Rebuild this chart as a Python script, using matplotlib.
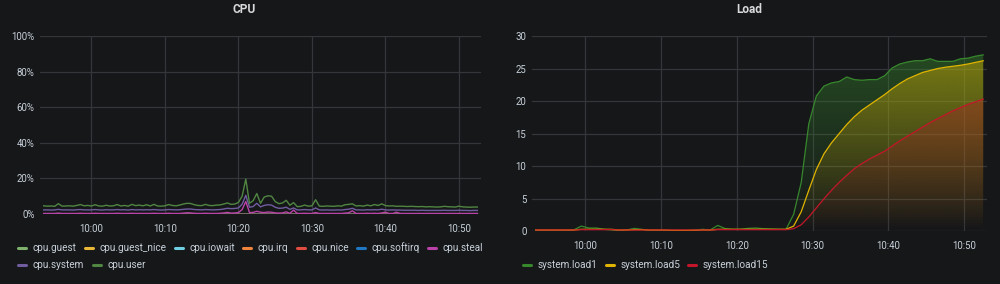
import numpy as np
import pandas as pd
import matplotlib
matplotlib.use('Agg')
import matplotlib.pyplot as plt
import matplotlib.dates as mdates
import matplotlib.colors as mcolors
from matplotlib.lines import Line2D

plt.rcParams['font.family'] = ['Roboto', 'DejaVu Sans']

# ---- data ----
cpu_times = pd.date_range('2021-01-01 09:53:30', periods=119, freq='30s')
load_times = pd.date_range('2021-01-01 09:53:30', periods=60, freq='60s')

cpu_user = [4.6, 4.4, 4.5, 4.3, 5.8, 4.4, 4.5, 4.6, 4.4, 4.8,
            5.3, 4.6, 4.8, 4.5, 5.2, 4.5, 4.4, 4.9, 4.5, 4.6,
            5.3, 4.5, 4.8, 4.4, 5.4, 4.7, 5.0, 4.6, 5.2, 4.5,
            5.4, 4.5, 4.4, 4.6, 5.3, 4.8, 4.6, 5.0, 5.6, 6.0,
            5.9, 5.2, 4.8, 4.7, 5.4, 4.8, 4.7, 5.0, 5.1, 5.6,
            6.2, 5.4, 5.6, 6.5, 10.0, 19.6, 6.0, 7.5, 11.5, 6.0,
            9.5, 10.2, 10.0, 7.0, 5.8, 6.2, 7.7, 4.9, 6.4, 4.1,
            4.3, 5.0, 4.4, 4.6, 8.0, 4.4, 4.3, 4.5, 4.4, 4.3,
            4.6, 4.4, 5.2, 5.4, 5.7, 4.5, 4.7, 4.4, 5.0, 4.6,
            5.3, 4.8, 5.7, 4.7, 4.5, 4.6, 4.3, 4.4, 4.3, 4.2,
            4.3, 4.2, 4.1, 4.2, 4.0, 4.1, 4.0, 3.9, 4.0, 4.3,
            4.1, 4.0, 3.9, 4.4, 4.0, 3.9, 3.8, 3.9, 3.9]

cpu_system = [2.3, 2.3, 2.2, 2.3, 2.6, 2.3, 2.3, 2.3, 2.2, 2.4,
              2.5, 2.3, 2.3, 2.3, 2.5, 2.3, 2.2, 2.4, 2.3, 2.3,
              2.5, 2.3, 2.4, 2.2, 2.5, 2.3, 2.4, 2.3, 2.4, 2.3,
              2.5, 2.3, 2.2, 2.3, 2.5, 2.4, 2.3, 2.4, 2.6, 2.8,
              2.8, 2.5, 2.4, 2.3, 2.5, 2.4, 2.3, 2.4, 2.5, 2.8,
              3.2, 3.0, 3.1, 3.4, 5.5, 10.5, 3.8, 4.2, 6.0, 4.0,
              4.8, 5.2, 5.0, 3.8, 3.2, 3.3, 3.8, 2.6, 3.4, 2.3,
              2.3, 2.5, 2.3, 2.3, 3.4, 2.3, 2.2, 2.3, 2.2, 2.2,
              2.3, 2.2, 2.5, 2.7, 3.2, 2.3, 2.3, 2.2, 2.4, 2.3,
              2.4, 2.3, 2.7, 2.3, 2.2, 2.3, 2.2, 2.2, 2.1, 2.1,
              2.1, 2.1, 2.0, 2.1, 2.0, 2.0, 2.0, 2.0, 2.0, 2.1,
              2.0, 2.0, 2.0, 2.1, 2.0, 2.0, 1.9, 2.0, 2.0]

cpu_steal = [0.3, 0.3, 0.3, 0.3, 0.5, 0.3, 0.3, 0.3, 0.3, 0.3,
             0.4, 0.3, 0.3, 0.3, 0.4, 0.3, 0.3, 0.3, 0.3, 0.3,
             0.4, 0.3, 0.3, 0.3, 0.4, 0.3, 0.3, 0.3, 0.3, 0.3,
             0.4, 0.3, 0.3, 0.3, 0.4, 0.3, 0.3, 0.3, 0.5, 0.7,
             0.6, 0.4, 0.3, 0.3, 0.4, 0.3, 0.3, 0.3, 0.4, 0.6,
             0.9, 0.5, 0.6, 0.8, 2.5, 7.0, 0.8, 0.9, 1.5, 1.0,
             0.8, 1.1, 1.0, 0.6, 0.5, 0.6, 1.2, 0.4, 2.2, 0.3,
             0.3, 0.4, 0.3, 0.3, 0.8, 0.3, 0.3, 0.3, 0.3, 0.3,
             0.3, 0.3, 0.5, 0.7, 1.8, 0.3, 0.3, 0.3, 0.4, 0.3,
             0.4, 0.3, 0.6, 1.0, 0.3, 0.3, 1.0, 0.3, 0.3, 0.3,
             0.3, 0.3, 0.3, 0.3, 0.3, 0.3, 0.3, 0.3, 0.3, 0.3,
             0.3, 0.3, 0.3, 0.3, 0.3, 0.3, 0.3, 0.3, 0.3]

cpu_zero = [0.0] * 119

load1 = [0.1, 0.1, 0.1, 0.1, 0.1, 0.2, 0.8, 0.5, 0.5, 0.3,
         0.2, 0.1, 0.2, 0.45, 0.3, 0.1, 0.1, 0.1, 0.05, 0.05,
         0.1, 0.2, 0.3, 0.2, 0.9, 0.4, 0.3, 0.3, 0.45, 0.5,
         0.4, 0.35, 0.3, 0.3, 2.6, 7.5, 16.5, 20.8, 22.3, 22.8,
         23.0, 23.7, 23.3, 23.2, 23.3, 23.3, 23.9, 25.1, 25.7, 26.0,
         26.2, 26.2, 26.5, 26.1, 26.1, 26.1, 26.5, 26.6, 26.9, 27.1]

load5 = [0.2, 0.2, 0.2, 0.2, 0.2, 0.2, 0.3, 0.3, 0.3, 0.3,
         0.3, 0.2, 0.2, 0.25, 0.25, 0.2, 0.2, 0.2, 0.15, 0.15,
         0.15, 0.15, 0.2, 0.2, 0.3, 0.3, 0.3, 0.3, 0.3, 0.3,
         0.3, 0.3, 0.3, 0.3, 0.8, 3.0, 6.3, 9.5, 11.9, 13.6,
         15.0, 16.4, 17.6, 18.6, 19.4, 20.2, 21.0, 21.9, 22.7, 23.4,
         23.9, 24.4, 24.7, 25.0, 25.2, 25.35, 25.5, 25.7, 25.95, 26.2]

load15 = [0.2, 0.2, 0.2, 0.2, 0.2, 0.2, 0.25, 0.25, 0.25, 0.25,
          0.25, 0.2, 0.2, 0.2, 0.2, 0.2, 0.2, 0.2, 0.2, 0.2,
          0.2, 0.2, 0.2, 0.2, 0.25, 0.25, 0.25, 0.25, 0.25, 0.25,
          0.25, 0.25, 0.25, 0.25, 0.4, 1.0, 2.2, 3.6, 5.0, 6.3,
          7.5, 8.6, 9.6, 10.4, 11.1, 11.7, 12.3, 13.1, 13.9, 14.6,
          15.3, 16.0, 16.7, 17.3, 17.9, 18.5, 19.0, 19.5, 19.9, 20.3]

cpu_names = ['cpu.guest', 'cpu.guest_nice', 'cpu.iowait', 'cpu.irq', 'cpu.nice',
             'cpu.softirq', 'cpu.steal', 'cpu.system', 'cpu.user']
cpu_values = [cpu_zero, cpu_zero, cpu_zero, cpu_zero, cpu_zero,
              cpu_zero, cpu_steal, cpu_system, cpu_user]
cpu_colors = ['#7EB26D', '#EAB839', '#6ED0E0', '#EF843C', '#E24D42',
              '#1F78C1', '#BA43A9', '#705DA0', '#508642']

load_names = ['system.load1', 'system.load5', 'system.load15']
load_values = [load1, load5, load15]
load_colors = ['#37872D', '#E0B400', '#C4162A']

# ---- style ----
BG = '#161719'
GRID = '#34363a'
TXT = '#c7d0d9'

fig = plt.figure(figsize=(10, 2.84), dpi=100, facecolor=BG)
ax1 = fig.add_axes([0.040, 0.2465, 0.441, 0.6268])
ax2 = fig.add_axes([0.532, 0.1856, 0.455, 0.6877])

t0 = pd.Timestamp('2021-01-01 09:53:00')
t1 = pd.Timestamp('2021-01-01 10:53:00')


def style(ax, yticks, fmt):
    ax.set_facecolor(BG)
    for s in ax.spines.values():
        s.set_visible(False)
    ax.set_xlim(t0, t1)
    ax.set_ylim(yticks[0], yticks[-1])
    ax.set_yticks(yticks)
    ax.set_yticklabels([fmt % v for v in yticks])
    ax.xaxis.set_major_locator(mdates.MinuteLocator(byminute=[0, 10, 20, 30, 40, 50]))
    ax.xaxis.set_major_formatter(mdates.DateFormatter('%H:%M'))
    ax.tick_params(length=0, colors=TXT, labelsize=6.9)
    ax.tick_params(axis='x', pad=7)
    ax.tick_params(axis='y', pad=4)
    ax.grid(True, color=GRID, linewidth=0.9)
    ax.set_axisbelow(True)


# CPU panel
for name, vals, col in zip(cpu_names, cpu_values, cpu_colors):
    ax1.plot(cpu_times, vals, color=col, linewidth=1.0, label=name, zorder=3)
style(ax1, [0, 20, 40, 60, 80, 100], '%d%%')


# Load panel with gradient fills
def gradient_fill(ax, x, y, color, top, amax, z):
    poly = ax.fill_between(x, 0, y, facecolor='none', edgecolor='none')
    rgba = np.zeros((200, 1, 4))
    rgba[:, :, :3] = mcolors.to_rgb(color)
    rgba[:, 0, 3] = np.linspace(0, amax, 200)
    xn = mdates.date2num(x)
    im = ax.imshow(rgba, aspect='auto', origin='lower',
                   extent=[xn[0], xn[-1], 0, top], zorder=z,
                   interpolation='bilinear')
    im.set_clip_path(poly.get_paths()[0], transform=ax.transData)


for i, (name, vals, col) in enumerate(zip(load_names, load_values, load_colors)):
    gradient_fill(ax2, load_times, vals, col, 30, 0.5, 1 + i)
for name, vals, col in zip(load_names, load_values, load_colors):
    ax2.plot(load_times, vals, color=col, linewidth=0.9, zorder=5)
style(ax2, [0, 5, 10, 15, 20, 25, 30], '%d')

# titles
fig.text(0.244, 0.965, 'CPU', ha='center', va='center', color='#d8d9da',
         fontsize=8.6, fontweight='bold')
fig.text(0.749, 0.965, 'Load', ha='center', va='center', color='#d8d9da',
         fontsize=8.6, fontweight='bold')

# legends (drawn by hand, grafana style)
cpu_leg_x = [18.3, 85.3, 175, 243.3, 296.7, 356.7, 428.3, 18.3, 92.7]
cpu_leg_y = [248] * 7 + [265] * 2
load_leg_x = [523.3, 606, 688.3]
load_leg_y = [265.3] * 3


def legend(names, colors, xs, ys):
    for name, col, x, y in zip(names, colors, xs, ys):
        yy = 1 - y / 284
        fig.add_artist(Line2D([(x) / 1000, (x + 8) / 1000], [yy, yy],
                              transform=fig.transFigure, color=col,
                              linewidth=2.2, solid_capstyle='round'))
        fig.text((x + 14.4) / 1000, yy, name, ha='left', va='center',
                 color=TXT, fontsize=7.2)


legend(cpu_names, cpu_colors, cpu_leg_x, cpu_leg_y)
legend(load_names, load_colors, load_leg_x, load_leg_y)

fig.savefig('out.png', dpi=100, facecolor=BG)
